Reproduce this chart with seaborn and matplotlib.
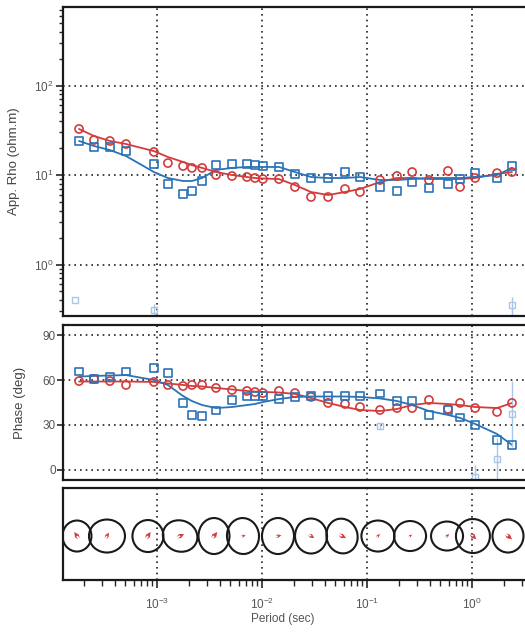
import numpy as np
import pandas as pd
import matplotlib
matplotlib.use("Agg")
import matplotlib.pyplot as plt
from matplotlib.collections import EllipseCollection
from matplotlib.ticker import LogLocator, NullFormatter, FixedLocator
import seaborn as sns

# ---- sounding data -------------------------------------------------------
period = [1.81e-4, 2.51e-4, 3.56e-4, 5.07e-4, 9.35e-4, 1.27e-3, 1.77e-3, 2.15e-3,
          2.69e-3, 3.65e-3, 5.18e-3, 7.19e-3, 8.57e-3, 1.02e-2, 1.45e-2, 2.06e-2,
          2.93e-2, 4.26e-2, 6.17e-2, 8.57e-2, 0.133, 0.193, 0.269, 0.389, 0.590,
          0.769, 1.07, 1.73, 2.40]

rho_xy = [32.7, 24.6, 24.0, 22.2, 18.1, 13.6, 12.6, 12.0, 12.0, 10.0, 9.75, 9.5,
          9.26, 9.02, 9.02, 7.35, 5.68, 5.68, 6.98, 6.46, 8.8, 9.75, 10.8, 8.8,
          11.1, 7.35, 9.26, 10.5, 10.8]
rho_yx = [24.0, 20.6, 20.6, 18.5, 13.3, 7.93, 6.13, 6.62, 8.57, 12.9, 13.3, 13.3,
          12.9, 12.6, 12.3, 10.3, 9.26, 9.26, 10.8, 9.5, 7.35, 6.62, 8.35, 7.16,
          7.93, 9.02, 10.5, 9.26, 12.6]

phs_xy = [59.3, 60.7, 59.3, 56.7, 58.7, 56.7, 56.0, 56.7, 56.7, 54.7, 53.3, 52.7,
          52.0, 51.3, 52.7, 51.3, 48.7, 44.7, 44.0, 42.0, 40.0, 41.3, 41.3, 46.7,
          40.7, 44.7, 41.3, 38.7, 44.7]
phs_yx = [65.7, 60.7, 62.3, 65.7, 68.0, 64.7, 44.7, 36.7, 36.0, 39.7, 46.7, 49.0,
          49.3, 49.3, 47.3, 48.7, 49.3, 49.3, 49.3, 49.3, 51.0, 46.0, 46.0, 36.7,
          40.0, 35.0, 30.0, 20.0, 16.7]

# ---- model responses -----------------------------------------------------
mod_rho_xy = [32.7, 27.3, 24.0, 22.2, 18.5, 15.9, 14.0, 12.9, 12.0, 10.8, 10.0, 9.5,
              9.26, 9.14, 9.02, 7.73, 6.46, 5.98, 6.46, 6.98, 8.35, 9.26, 9.26, 9.02,
              9.02, 9.02, 9.26, 10.3, 10.8]
mod_rho_yx = [24.0, 21.1, 19.0, 16.3, 10.8, 9.26, 8.57, 8.57, 9.26, 11.4, 12.0, 12.3,
              12.3, 12.3, 12.3, 10.8, 9.5, 9.26, 9.26, 9.5, 8.8, 8.8, 9.02, 9.26,
              9.26, 9.26, 9.5, 10.0, 12.0]
mod_phs_xy = [59.0, 59.0, 59.0, 59.0, 58.7, 57.7, 56.7, 56.0, 55.7, 54.7, 53.7, 52.7,
              52.3, 52.0, 51.7, 50.7, 48.0, 44.7, 42.0, 40.0, 39.3, 40.7, 43.3, 44.7,
              44.0, 43.3, 42.0, 41.3, 44.7]
mod_phs_yx = [62.3, 62.7, 63.0, 63.3, 60.0, 56.7, 49.3, 46.0, 43.3, 41.3, 42.0, 43.3,
              44.0, 45.3, 47.3, 48.7, 49.0, 49.0, 49.0, 48.7, 47.7, 46.0, 43.3, 39.3,
              36.7, 34.7, 30.7, 24.0, 16.7]

# ---- masked (excluded) points -------------------------------------------
mask_rho_period = [1.66e-4, 9.35e-4, 2.40]
mask_rho_value = [0.40, 0.31, 0.35]
mask_rho_err = [0.0, 0.05, 0.08]
mask_phs_period = [0.133, 1.07, 1.73, 2.40]
mask_phs_value = [29.3, -4.7, 7.3, 37.3]
mask_phs_err = [2.0, 8.0, 14.0, 22.0]

# ---- phase tensor ellipses ----------------------------------------------
ell_period = [1.73e-4, 3.34e-4, 8.20e-4, 1.66e-3, 3.49e-3, 6.59e-3, 1.42e-2,
              2.93e-2, 5.78e-2, 0.127, 0.257, 0.578, 1.02, 2.20]
ell_width = [29, 36, 31, 35, 31, 32, 32, 32, 31, 33, 32, 32, 34, 31]
ell_height = [31, 33, 32, 31, 36, 36, 36, 35, 35, 31, 30, 29, 34, 33]
ell_angle = [0, 0, 0, -20, 0, 5, 0, 0, 15, 0, 0, 0, 10, 0]
arrow_u = [-0.4, 0.3, 0.4, 0.6, 0.5, 0.4, 0.5, 0.5, 0.6, 0.3, 0.3, 0.3, 0.5, 0.6]
arrow_v = [0.6, 0.5, 0.6, 0.3, 0.6, 0.1, 0.1, -0.3, -0.3, 0.3, 0.2, 0.3, -0.5, -0.5]

RED = "#d23c3c"
BLUE = "#2b72b8"
FAINT = "#a9c6e6"
GRID = dict(color="#222222", linestyle=(0, (1, 2.4)), linewidth=1.2)
TXT = "#555555"

sns.set_style("white")
plt.rcParams["font.family"] = ["Liberation Sans", "DejaVu Sans"]
plt.rcParams["mathtext.fontset"] = "custom"
plt.rcParams["mathtext.rm"] = "Liberation Sans"
plt.rcParams["mathtext.it"] = "Liberation Sans"

W, H = 525, 633
fig = plt.figure(figsize=(W / 100, H / 100), dpi=100)

def box(left, top, right, bottom):
    return [left / W, 1 - bottom / H, (right - left) / W, (bottom - top) / H]

ax_rho = fig.add_axes(box(63, 7, 532, 316))
ax_phs = fig.add_axes(box(63, 325, 532, 480))
ax_ell = fig.add_axes(box(63, 488, 532, 580))

xmin, xmax = 10 ** -3.895, 10 ** 0.571
df = pd.DataFrame(dict(period=period, rho_xy=rho_xy, rho_yx=rho_yx,
                       phs_xy=phs_xy, phs_yx=phs_yx,
                       m_rho_xy=mod_rho_xy, m_rho_yx=mod_rho_yx,
                       m_phs_xy=mod_phs_xy, m_phs_yx=mod_phs_yx))

for ax in (ax_rho, ax_phs, ax_ell):
    ax.set_xscale("log")
    ax.set_xlim(xmin, xmax)
    for s in ax.spines.values():
        s.set_linewidth(1.6)
        s.set_color("#1a1a1a")
    for dec in [1e-3, 1e-2, 1e-1, 1e0]:
        ax.axvline(dec, zorder=0, **GRID)

# ---- apparent resistivity -----------------------------------------------
ax = ax_rho
ax.set_yscale("log")
ax.set_ylim(10 ** -0.575, 10 ** 2.877)
for v in [1, 10, 100]:
    ax.axhline(v, zorder=0, **GRID)
sns.lineplot(data=df, x="period", y="m_rho_xy", ax=ax, color=RED, lw=1.3, sort=False)
sns.lineplot(data=df, x="period", y="m_rho_yx", ax=ax, color=BLUE, lw=1.3, sort=False)
sns.scatterplot(data=df, x="period", y="rho_xy", ax=ax, marker="o", s=34,
                facecolor="none", edgecolor=RED, linewidth=1.2, zorder=3)
sns.scatterplot(data=df, x="period", y="rho_yx", ax=ax, marker="s", s=30,
                facecolor="none", edgecolor=BLUE, linewidth=1.2, zorder=3)
ax.errorbar(mask_rho_period, mask_rho_value,
            yerr=[mask_rho_err, mask_rho_err],
            fmt="s", ms=5, mfc="none", mec=FAINT, ecolor=FAINT, lw=1, zorder=2)
ax.yaxis.set_major_locator(LogLocator(base=10, numticks=10))
ax.yaxis.set_minor_locator(LogLocator(base=10, subs=np.arange(2, 10), numticks=10))
ax.yaxis.set_minor_formatter(NullFormatter())
ax.tick_params(axis="y", which="major", left=True, direction="out", length=5,
               width=1.2, labelsize=8.5, labelcolor=TXT, pad=2)
ax.tick_params(axis="y", which="minor", left=True, direction="out", length=3, width=1)
ax.tick_params(axis="x", which="both", bottom=False, labelbottom=False)
ax.set_xlabel("")
ax.set_ylabel("App. Rho (ohm.m)", fontsize=9.5, color="#444444", labelpad=10)

# ---- phase ---------------------------------------------------------------
ax = ax_phs
ax.set_ylim(-6.7, 96.7)
for v in [0, 30, 60, 90]:
    ax.axhline(v, zorder=0, **GRID)
sns.lineplot(data=df, x="period", y="m_phs_xy", ax=ax, color=RED, lw=1.3, sort=False)
sns.lineplot(data=df, x="period", y="m_phs_yx", ax=ax, color=BLUE, lw=1.3, sort=False)
sns.scatterplot(data=df, x="period", y="phs_xy", ax=ax, marker="o", s=34,
                facecolor="none", edgecolor=RED, linewidth=1.2, zorder=3)
sns.scatterplot(data=df, x="period", y="phs_yx", ax=ax, marker="s", s=30,
                facecolor="none", edgecolor=BLUE, linewidth=1.2, zorder=3)
ax.errorbar(mask_phs_period, mask_phs_value, yerr=mask_phs_err,
            fmt="s", ms=5, mfc="none", mec=FAINT, ecolor=FAINT, lw=1, zorder=2)
ax.yaxis.set_major_locator(FixedLocator([0, 30, 60, 90]))
ax.tick_params(axis="y", which="major", left=True, direction="out", length=4,
               width=1.2, labelsize=8.5, labelcolor=TXT, pad=1)
ax.tick_params(axis="x", which="both", bottom=False, labelbottom=False)
ax.set_xlabel("")
ax.set_ylabel("Phase (deg)", fontsize=9.5, color="#444444", labelpad=12)

# ---- ellipses ------------------------------------------------------------
ax = ax_ell
ax.set_ylim(0, 1)
yc = np.full(len(ell_period), 0.478)
ec = EllipseCollection(ell_width, ell_height, ell_angle, units="dots",
                       offsets=np.column_stack([ell_period, yc]),
                       offset_transform=ax.transData,
                       facecolors="none", edgecolors="#1a1a1a", linewidths=1.5)
ax.add_collection(ec)
ax.quiver(ell_period, yc, arrow_u, arrow_v, color=RED, angles="uv",
          scale=70, width=0.004, headwidth=2.5, headlength=2.5, zorder=3)
ax.set_yticks([])
ax.xaxis.set_major_locator(LogLocator(base=10, numticks=10))
ax.xaxis.set_minor_locator(LogLocator(base=10, subs=np.arange(2, 10), numticks=10))
ax.xaxis.set_minor_formatter(NullFormatter())
ax.tick_params(axis="x", which="major", bottom=True, direction="out", length=6,
               width=1.2, labelsize=8.5, labelcolor=TXT, pad=6)
ax.tick_params(axis="x", which="minor", bottom=True, direction="out", length=4, width=1)
ax.set_xlabel("")
ax.set_ylabel("")

fig.text(283 / W, 1 - 619 / H, "Period (sec)", ha="center", va="center",
         fontsize=8.5, color=TXT)

fig.savefig("out.png", dpi=100)
